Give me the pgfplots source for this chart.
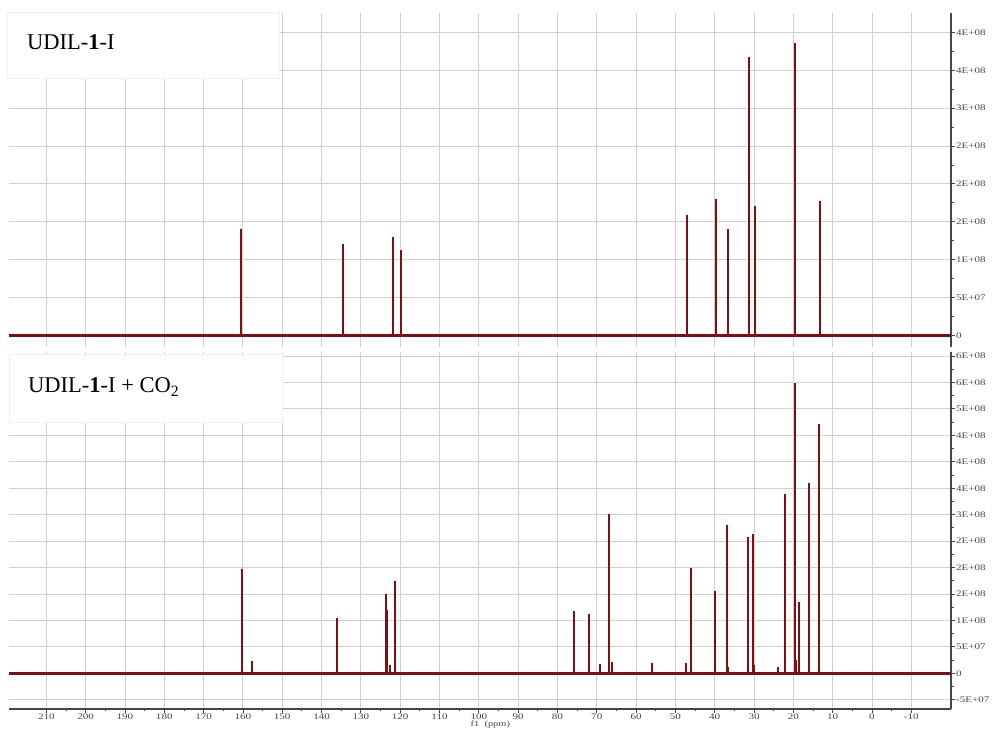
\documentclass[border=0pt]{standalone}
\usepackage{pgfplots}
\pgfplotsset{compat=1.18}
\usepackage{fontspec}
\setmainfont{Liberation Serif}
\newfontfamily\tickfont[FakeStretch=1.3]{Liberation Serif}
\definecolor{peak}{RGB}{128,14,18}
\definecolor{gridc}{RGB}{208,208,208}
\definecolor{axc}{RGB}{70,70,70}
\pgfplotsset{nmrstyle/.style={
  scale only axis, width=942pt, x dir=reverse, xmin=-20.1, xmax=219.5,
  axis x line*=bottom, axis y line*=right,
  xtick={-10,0,10,20,30,40,50,60,70,80,90,100,110,120,130,140,150,160,170,180,190,200,210},
  grid=major, major grid style={gridc, line width=0.9pt},
  tick align=outside,
  major tick length=4pt, minor tick length=2.5pt,
  every tick/.style={axc, line width=0.8pt},
  axis line style={axc, line width=1.1pt},
  tick label style={font=\tickfont\fontsize{8.5}{10}\selectfont, text=axc, inner sep=1pt},
  /pgf/number format/assume math mode=true,
  scaled y ticks=false,
  minor y tick num=1,
  clip=true,
}}
\begin{document}
\begin{tikzpicture}
\useasboundingbox (0,0) rectangle (995pt,730pt);
% ---------------- top panel ----------------
\begin{axis}[nmrstyle, at={(9pt,383pt)}, anchor=south west, height=334pt,
  ymin=-1.55e7, ymax=4.257e8,
  ytick={0,5e7,1e8,1.5e8,2e8,2.5e8,3e8,3.5e8,4e8},
  yticklabels={0,5E+07,1E+08,2E+08,2E+08,2E+08,3E+08,4E+08,4E+08},
  xticklabels={}, x axis line style={draw=none}, xtick style={draw=none}]
\addplot[peak, line width=2.6pt] coordinates {(219.5,0) (-20.1,0)};
\addplot[peak, line width=2pt, ycomb, mark=none] coordinates {
 (160.4,1.40e8) (134.6,1.20e8) (121.8,1.30e8) (119.9,1.12e8)
 (47.0,1.59e8) (39.6,1.80e8) (36.6,1.40e8) (31.3,3.68e8)
 (29.8,1.71e8) (19.5,3.86e8) (13.2,1.77e8)};
\end{axis}
% ---------------- bottom panel ----------------
\begin{axis}[nmrstyle, at={(9pt,21pt)}, anchor=south west, height=357pt,
  ymin=-6.75e7, ymax=6.076e8,
  ytick={-5e7,0,5e7,1e8,1.5e8,2e8,2.5e8,3e8,3.5e8,4e8,4.5e8,5e8,5.5e8,6e8},
  yticklabels={-5E+07,0,5E+07,1E+08,2E+08,2E+08,2E+08,3E+08,4E+08,4E+08,4E+08,5E+08,6E+08,6E+08},
  minor x tick num=1,
  xlabel={f1\ \ (ppm)},
  xlabel style={at={(axis description cs:0.511,0)}, anchor=center, yshift=-16pt,
    font=\tickfont\fontsize{8}{9}\selectfont, text=axc}]
\addplot[peak, line width=2.6pt] coordinates {(219.5,0) (-20.1,0)};
\addplot[peak, line width=2pt, ycomb, mark=none] coordinates {
 (160.3,1.97e8) (157.8,2.4e7) (136.1,1.04e8) (123.6,1.50e8) (123.45,1.19e8)
 (122.5,1.6e7) (121.3,1.75e8)
 (75.75,1.18e8) (71.86,1.12e8) (69.1,1.76e7) (66.85,3.02e8) (66.0,2.08e7)
 (55.9,1.89e7) (47.4,1.89e7) (46.0,1.99e8) (39.9,1.56e8)
 (36.9,2.80e8) (36.6,1.25e7) (31.55,2.57e8) (30.2,2.63e8) (29.9,1.57e7)
 (23.9,1.25e7) (22.05,3.40e8) (19.6,5.49e8) (19.2,2.6e7) (18.6,1.34e8)
 (15.9,3.59e8) (13.4,4.71e8)};
\end{axis}
% ---------------- label boxes ----------------
\filldraw[fill=white, draw=gray!12] (7pt,652pt) rectangle (279pt,718pt);
\node[anchor=base west, inner sep=0pt, font=\fontsize{22.5}{26}\selectfont] at (27pt,680pt) {UDIL-\textbf{1}-I};
\filldraw[fill=white, draw=gray!12] (9pt,308pt) rectangle (282pt,376pt);
\node[anchor=base west, inner sep=0pt, font=\fontsize{22.5}{26}\selectfont] at (28pt,337pt) {UDIL-\textbf{1}-I + CO\textsubscript{2}};
\end{tikzpicture}
\end{document}
